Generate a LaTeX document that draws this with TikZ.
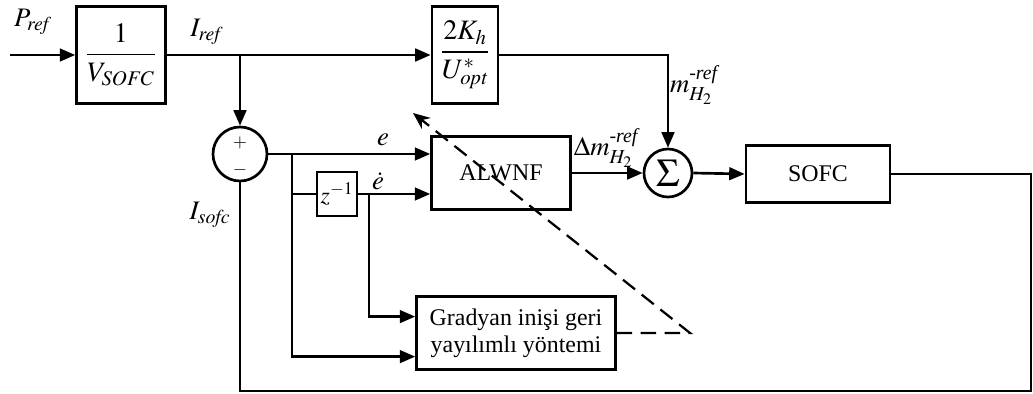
\documentclass[tikz,border=0pt]{standalone}
\usepackage{amsmath}
\usepackage{mathptmx}
\usepackage{fontspec}
\setmainfont{Liberation Serif}
\usepackage{tikz}
\usetikzlibrary{arrows.meta,positioning}

\tikzset{
  blk/.style={draw, line width=1.9pt, inner sep=2pt, align=center},
  sumnode/.style={draw, circle, line width=1.9pt, inner sep=0pt},
  sig/.style={line width=1.9pt, -{Triangle[length=11pt,width=9pt]}},
  wire/.style={line width=1.9pt},
  tune/.style={line width=1.6pt, dash pattern=on 11pt off 6pt, -{Stealth[length=12pt,width=10pt]}},
  lbl/.style={inner sep=0pt, font=\fontsize{19}{21}\selectfont}
}

\begin{document}
\begin{tikzpicture}[x=0.025cm, y=-0.025cm, font=\fontsize{17}{19}\selectfont]
  \useasboundingbox (0,0) rectangle (1033,394);

  \node[blk, minimum width=2.22cm, minimum height=2.42cm, font=\fontsize{20}{22}\selectfont] (gain) at (121,55) {$\dfrac{1}{V_{\mathit{SOFC}}}$};
  \node[blk, minimum width=1.65cm, minimum height=2.42cm, font=\fontsize{20}{22}\selectfont] (kh) at (465,55) {$\dfrac{2K_h}{U^{*}_{\mathit{opt}}}$};
  \node[sumnode, minimum size=1.35cm] (sum1) at (240,154) {};
  \node[lbl, font=\fontsize{13}{13}\selectfont] (plus) at (240,143) {$+$};
  \node[lbl, font=\fontsize{13}{13}\selectfont] (minus) at (240,170) {$-$};
  \node[blk, minimum width=3.47cm, minimum height=1.82cm] (alwnf) at (501,173) {ALWNF};
  \node[blk, minimum width=1.0cm, minimum height=1.1cm, inner sep=0pt] (delay) at (337,194) {$z^{-1}$};
  \node[blk, minimum width=4.97cm, minimum height=1.82cm] (grad) at (516,333) {Gradyan inişi geri\\yayılımlı yöntemi};
  \node[sumnode, minimum size=1.2cm, font=\fontsize{28}{28}\selectfont] (sigma) at (668,173) {$\Sigma$};
  \node[blk, minimum width=3.6cm, minimum height=1.42cm] (sofc) at (818,174) {SOFC};

  \node[lbl] (pref) at (33,22) {$P_{\mathit{ref}}$};
  \node[lbl] (iref) at (207,32) {$I_{\mathit{ref}}$};
  \node[lbl] (elbl) at (383,140) {$e$};
  \node[lbl] (edot) at (378,181) {$\dot{e}$};
  \node[lbl] (isofc) at (210,215) {$I_{\mathit{sofc}}$};
  \node[lbl] (mref) at (694,85) {$m^{\text{\itshape -ref}}_{H_2}$};
  \node[lbl] (dmref) at (606,148) {$\Delta m^{\text{\itshape -ref}}_{H_2}$};

  \coordinate (pin) at (10,55);
  \coordinate (b1) at (240,55);
  \coordinate (b2) at (292,154);
  \coordinate (b3) at (369,194);
  \coordinate (fb) at (1031,391);
  \coordinate (d1) at (690,333);
  \coordinate (d2) at (413,113);

  \draw[sig] (pin) -- (gain);
  \draw[sig] (gain) -- (kh);
  \draw[sig] (b1) -- (sum1);
  \draw[sig] (kh.east) -| (sigma.north);
  \draw[sig] (sum1.east) -- (sum1.east -| alwnf.west);
  \draw[wire] (b2) |- (delay.west);
  \draw[sig] (b2) |- ([yshift=-0.59cm]grad.west);
  \draw[sig] (delay.east) -- (delay.east -| alwnf.west);
  \draw[sig] (b3) |- ([yshift=0.41cm]grad.west);
  \draw[sig] (alwnf.east |- sigma.west) -- (sigma.west);
  \draw[sig] (sigma.east) -- (sofc.west);
  \draw[wire] (sofc.east) -| (fb) -| (sum1.south);
  \draw[tune] (grad.east) -- (d1) -- (d2);
\end{tikzpicture}
\end{document}
